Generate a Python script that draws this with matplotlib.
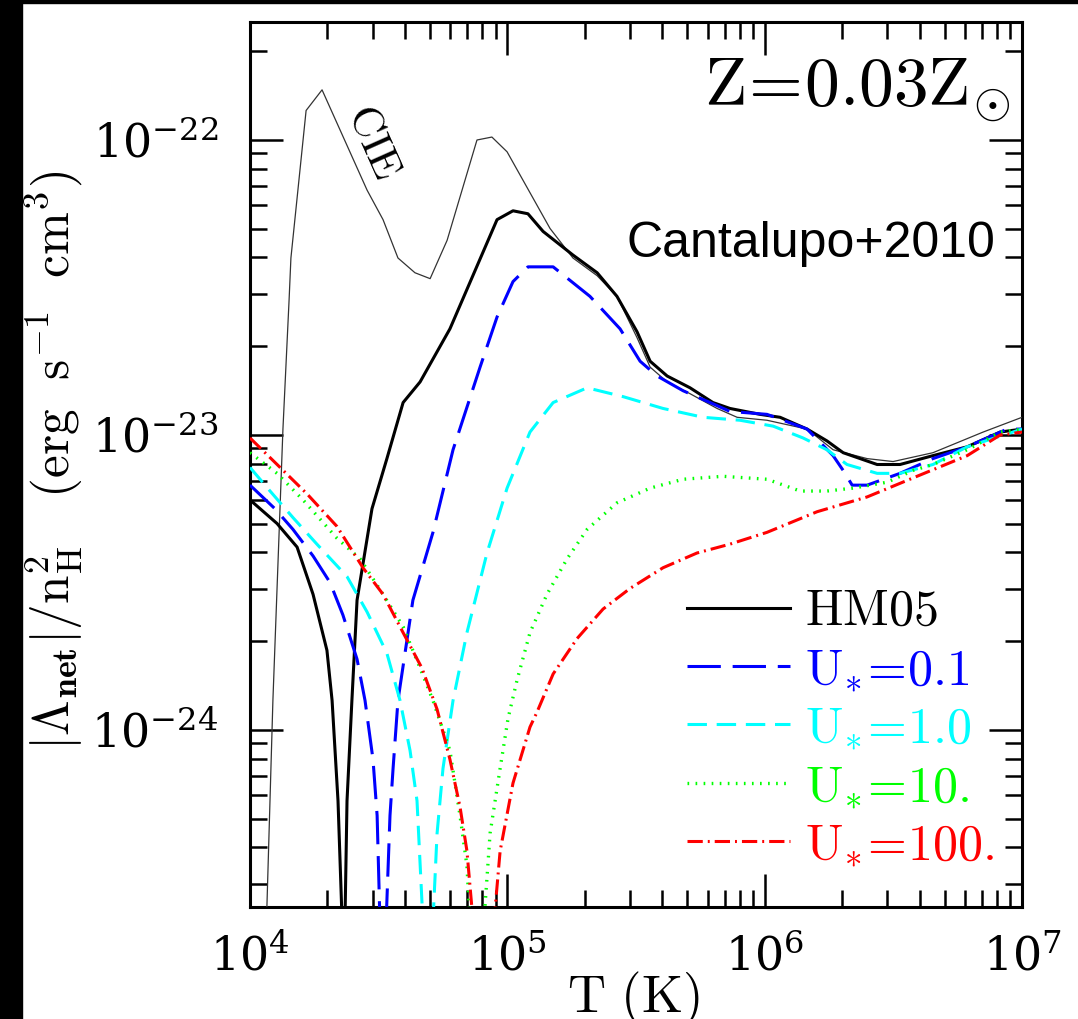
import numpy as np
import matplotlib
matplotlib.use("Agg")
import matplotlib.pyplot as plt
from matplotlib.patches import Rectangle

plt.rcParams['mathtext.fontset'] = 'cm'
plt.rcParams['font.family'] = ['DejaVu Serif']
plt.rcParams['lines.scale_dashes'] = False

# ---- data (log10 T [K], log10 |Lambda_net|/nH^2 [erg s^-1 cm^3]) ----
cie_logT = [4.064, 4.089, 4.128, 4.152, 4.159, 4.218, 4.280, 4.455, 4.517, 4.575,
            4.641, 4.700, 4.766, 4.882, 4.940, 4.999, 5.166, 5.255, 5.349, 5.426,
            5.504, 5.555, 5.621, 5.710, 5.815, 5.893, 6.009, 6.165, 6.266, 6.398,
            6.499, 6.654, 6.849, 7.000]
cie_logL = [-24.65, -23.90, -22.98, -22.54, -22.40, -21.90, -21.83, -22.17, -22.27, -22.40,
            -22.45, -22.47, -22.34, -22.00, -21.99, -22.04, -22.30, -22.40, -22.46, -22.53,
            -22.67, -22.77, -22.82, -22.86, -22.91, -22.94, -22.95, -22.98, -23.05, -23.08,
            -23.09, -23.06, -22.99, -22.94]

# HM05: low-T branch (net heating, |Lambda|) and high-T branch (net cooling)
hm_lo_logT = [4.000, 4.105, 4.183, 4.245, 4.299, 4.319, 4.342, 4.358]
hm_lo_logL = [-23.22, -23.30, -23.38, -23.54, -23.73, -23.90, -24.24, -24.65]
hm_hi_logT = [4.369, 4.377, 4.396, 4.416, 4.474, 4.532, 4.595, 4.661, 4.777, 4.960,
              5.022, 5.080, 5.139, 5.255, 5.349, 5.426, 5.504, 5.555, 5.621, 5.710,
              5.799, 5.865, 5.982, 6.060, 6.165, 6.242, 6.305, 6.437, 6.526, 6.654,
              6.787, 6.915, 7.000]
hm_hi_logL = [-24.65, -24.24, -23.90, -23.56, -23.25, -23.08, -22.89, -22.82, -22.64, -22.27,
              -22.24, -22.25, -22.31, -22.39, -22.45, -22.53, -22.65, -22.75, -22.80, -22.84,
              -22.89, -22.91, -22.93, -22.94, -22.98, -23.02, -23.06, -23.10, -23.10, -23.07,
              -23.04, -22.99, -22.98]

# U* = 0.1
u01_lo_logT = [4.000, 4.097, 4.167, 4.245, 4.311, 4.361, 4.416, 4.447, 4.478, 4.494, 4.505]
u01_lo_logL = [-23.17, -23.25, -23.32, -23.41, -23.50, -23.61, -23.76, -23.90, -24.10, -24.29, -24.65]
u01_hi_logT = [4.529, 4.544, 4.556, 4.575, 4.633, 4.711, 4.789, 4.894, 4.960, 5.022,
               5.080, 5.178, 5.321, 5.438, 5.516, 5.582, 5.683, 5.788, 5.865, 6.009,
               6.165, 6.266, 6.305, 6.340, 6.398, 6.526, 6.654, 6.787, 6.942, 7.000]
u01_hi_logL = [-24.65, -24.29, -24.13, -23.90, -23.56, -23.33, -23.05, -22.77, -22.60, -22.48,
               -22.43, -22.43, -22.53, -22.64, -22.75, -22.80, -22.85, -22.89, -22.92, -22.93,
               -22.98, -23.07, -23.12, -23.17, -23.17, -23.13, -23.08, -23.04, -22.98, -22.98]

# U* = 1.0
u1_lo_logT = [4.000, 4.078, 4.167, 4.260, 4.377, 4.455, 4.532, 4.583, 4.622, 4.649, 4.672]
u1_lo_logL = [-23.11, -23.19, -23.28, -23.37, -23.48, -23.60, -23.74, -23.90, -24.07, -24.24, -24.65]
u1_hi_logT = [4.711, 4.727, 4.750, 4.789, 4.843, 4.921, 4.999, 5.088, 5.178, 5.310,
              5.450, 5.605, 5.761, 5.904, 6.033, 6.149, 6.242, 6.320, 6.437, 6.526,
              6.654, 6.787, 7.000]
u1_hi_logL = [-24.65, -24.35, -24.13, -23.90, -23.67, -23.40, -23.18, -22.99, -22.89, -22.84,
              -22.87, -22.91, -22.94, -22.95, -22.97, -23.01, -23.05, -23.10, -23.13, -23.13,
              -23.10, -23.04, -22.98]

# U* = 10
u10_lo_logT = [4.000, 4.105, 4.206, 4.338, 4.428, 4.517, 4.595, 4.661, 4.711, 4.777, 4.816, 4.843, 4.855]
u10_lo_logL = [-23.06, -23.13, -23.22, -23.35, -23.42, -23.54, -23.65, -23.79, -23.90, -24.07, -24.29, -24.46, -24.65]
u10_hi_logT = [4.909, 4.933, 4.972, 5.003, 5.038, 5.088, 5.154, 5.232, 5.310, 5.426,
               5.555, 5.683, 5.838, 6.009, 6.138, 6.242, 6.344, 6.476, 6.577, 6.654,
               6.787, 6.915, 7.000]
u10_hi_logL = [-24.65, -24.35, -24.13, -23.96, -23.83, -23.67, -23.54, -23.42, -23.32, -23.23,
               -23.18, -23.15, -23.14, -23.15, -23.19, -23.19, -23.18, -23.16, -23.12, -23.10,
               -23.05, -22.99, -22.98]

# U* = 100
u100_lo_logT = [4.000, 4.117, 4.222, 4.338, 4.439, 4.517, 4.595, 4.668, 4.727, 4.777, 4.816, 4.843, 4.867]
u100_lo_logL = [-23.01, -23.11, -23.20, -23.31, -23.45, -23.54, -23.67, -23.79, -23.93, -24.10, -24.26, -24.41, -24.65]
u100_hi_logT = [4.948, 4.972, 5.022, 5.088, 5.115, 5.178, 5.271, 5.372, 5.477, 5.605,
                5.737, 5.865, 6.009, 6.204, 6.398, 6.592, 6.787, 6.915, 7.000]
u100_hi_logL = [-24.65, -24.41, -24.18, -23.99, -23.94, -23.81, -23.69, -23.59, -23.52, -23.45,
                -23.40, -23.37, -23.33, -23.26, -23.21, -23.14, -23.07, -23.00, -22.99]

labels = [r'$\mathrm{HM05}$', r'$\mathrm{U_{*}\!=\!0.1}$', r'$\mathrm{U_{*}\!=\!1.0}$',
          r'$\mathrm{U_{*}\!=\!10.}$', r'$\mathrm{U_{*}\!=\!100.}$']

# ---- figure ----
W, H = 1078, 1019
fig = plt.figure(figsize=(W / 100, H / 100), dpi=100)
fig.patches.append(Rectangle((0, 0), 22 / W, 1, transform=fig.transFigure, color='black', zorder=-5))
fig.patches.append(Rectangle((0, 1 - 3 / H), 1, 3 / H, transform=fig.transFigure, color='black', zorder=-5))

ax = fig.add_axes([250 / W, 1 - 907 / H, 772 / W, 885 / H])

def P(lt, ll):
    return 10 ** np.array(lt), 10 ** np.array(ll)

styles = [
    dict(color='black', lw=2.2, ls='-'),
    dict(color='#0000ff', lw=2.2, ls=(0, (24, 8.5))),
    dict(color='#00ffff', lw=2.2, ls=(0, (14, 7))),
    dict(color='#00ff00', lw=2.4, ls=(0, (1.2, 4.6))),
    dict(color='#ff0000', lw=2.2, ls=(0, (11, 3.6, 1.4, 3.6))),
]
branches = [
    (hm_lo_logT, hm_lo_logL, hm_hi_logT, hm_hi_logL),
    (u01_lo_logT, u01_lo_logL, u01_hi_logT, u01_hi_logL),
    (u1_lo_logT, u1_lo_logL, u1_hi_logT, u1_hi_logL),
    (u10_lo_logT, u10_lo_logL, u10_hi_logT, u10_hi_logL),
    (u100_lo_logT, u100_lo_logL, u100_hi_logT, u100_hi_logL),
]

ax.plot(*P(cie_logT, cie_logL), color='#333333', lw=0.9, zorder=3)
handles = []
for (a, b, c, d), st, lab in zip(branches, styles, labels):
    ax.plot(*P(a, b), **st, zorder=4)
    h, = ax.plot(*P(c, d), **st, zorder=4, label=lab)
    handles.append(h)

ax.set_xscale('log')
ax.set_yscale('log')
ax.set_xlim(1e4, 1e7)
ax.set_ylim(10 ** -24.6, 10 ** -21.6)

for s in ax.spines.values():
    s.set_linewidth(2.2)
ax.tick_params(which='both', direction='in', top=True, right=True, width=1.8, colors='black')
ax.tick_params(which='major', length=24, labelsize=33)
ax.tick_params(axis='x', which='major', pad=20)
ax.tick_params(axis='y', which='major', pad=23)
ax.tick_params(which='minor', length=12)
ax.xaxis.set_major_formatter(matplotlib.ticker.LogFormatterMathtext())
ax.yaxis.set_major_formatter(matplotlib.ticker.LogFormatterMathtext())
ax.yaxis.set_minor_formatter(matplotlib.ticker.NullFormatter())
ax.xaxis.set_minor_formatter(matplotlib.ticker.NullFormatter())

# labels
fig.text(633 / W, 1 - 1012 / H, r'$\mathrm{T\ (K)}$', fontsize=38, ha='center', va='baseline')
fig.text(54 / W, 1 - 460 / H,
         r'$|\Lambda_{\mathbf{net}}|/\mathrm{n}_{\mathrm{H}}^{2}\quad(\mathrm{erg\ \ s^{-1}\ \ cm^{3}})$',
         fontsize=37, rotation=90, ha='center', va='center')

ax.text(0.985, 0.905, r'$\mathrm{Z\!=\!0.03Z_{\odot}}$', transform=ax.transAxes,
        fontsize=50, ha='right', va='baseline')
ax.text(0.965, 0.735, 'Cantalupo+2010', transform=ax.transAxes, fontsize=36,
        family='Liberation Sans', ha='right', va='baseline')
ax.text(10 ** 4.478, 10 ** -22.007, r'$\mathrm{CIE}$', fontsize=31, rotation=-66,
        ha='center', va='center', rotation_mode='anchor')

leg = ax.legend(handles=handles, loc='upper left', bbox_to_anchor=(0.566, 0.362),
                frameon=False, fontsize=36, handlelength=2.06, handletextpad=0.3,
                labelspacing=0.18, borderpad=0.0, borderaxespad=0.0, labelcolor='linecolor')

fig.savefig('out.png', dpi=100)
